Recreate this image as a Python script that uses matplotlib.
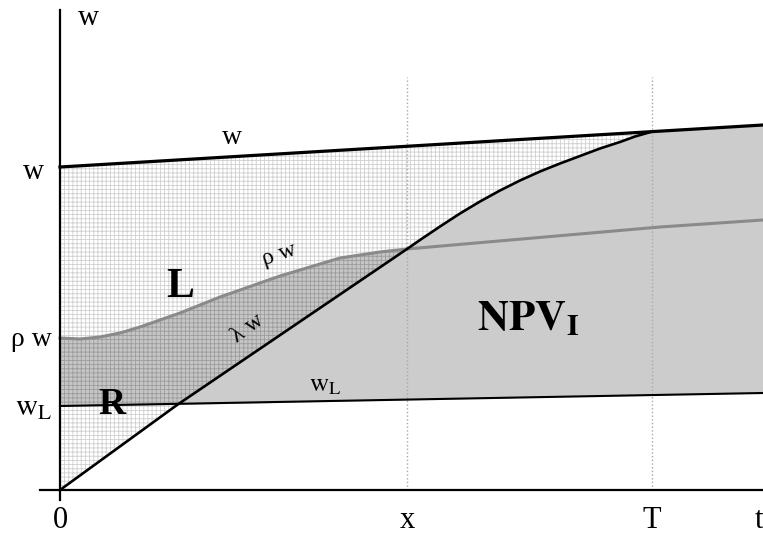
import numpy as np
import matplotlib
matplotlib.use("Agg")
import matplotlib.pyplot as plt

plt.rcParams['font.family'] = ['Liberation Serif', 'DejaVu Serif']
plt.rcParams['mathtext.fontset'] = 'stix'
plt.rcParams['hatch.linewidth'] = 0.6

# curves (t along the axis, value upward)
w_t = [0, 703]
w_v = [323, 365]

wL_t = [0, 703]
wL_v = [84, 97]

rho_t = [0, 20, 40, 60, 80, 100, 120, 140, 160, 180, 200, 220, 240, 260, 280, 300, 320, 347, 600, 703]
rho_v = [152, 151, 153, 157, 163, 170, 177, 185, 193, 200, 207, 214, 220, 226, 232, 235, 238, 241, 263, 270]

lam_t = [0, 117, 347, 360, 380, 400, 420, 440, 460, 480, 500, 520, 540, 560, 575, 592]
lam_v = [0, 85, 241, 250, 263.5, 276.5, 288.5, 299.5, 309.5, 318.5, 326.5, 334, 341.5, 348, 353.5, 358.4]

x_mark = 347
T_mark = 592

fig = plt.figure(figsize=(7.63, 5.36), dpi=100)
ax = fig.add_axes([0, 0, 1, 1])
ax.set_xlim(-60, 703)
ax.set_ylim(-46, 490)
ax.axis('off')

# light grid: between w and lambda w
gx = [w_t[0]] + lam_t[::-1]
gy = [w_v[0]] + lam_v[::-1]
ax.fill(gx, gy, facecolor='white', edgecolor='#cfcfcf', hatch='++++', lw=0, zorder=1)

# dark grid R: between rho w and max(lambda w, wL), up to x
n = rho_t.index(x_mark)
rx = rho_t[:n + 1] + lam_t[1:3][::-1] + [wL_t[0]]
ry = rho_v[:n + 1] + lam_v[1:3][::-1] + [wL_v[0]]
ax.fill(rx, ry, facecolor='#c6c6c6', edgecolor='#9c9c9c', hatch='++++', lw=0, zorder=2)

# solid grey NPV_I
sx = lam_t[1:] + [w_t[1], wL_t[1]]
sy = lam_v[1:] + [w_v[1], wL_v[1]]
ax.fill(sx, sy, facecolor='#cccccc', lw=0, zorder=3)

# vertical dotted guides
for m in (x_mark, T_mark):
    ax.plot([m, m], [0, 413], color='#a8a8a8', lw=1, ls=':', zorder=4)

# curves
ax.plot(rho_t, rho_v, color='#8a8a8a', lw=2.2, zorder=5)
ax.plot(wL_t, wL_v, color='black', lw=1.5, zorder=6)
ax.plot(lam_t, lam_v, color='black', lw=1.9, zorder=6)
ax.plot(w_t, w_v, color='black', lw=2.3, zorder=7)

# axes
ax.plot([0, 0], [-10, 480], color='black', lw=1.6, zorder=8)
ax.plot([-20, 703], [0, 0], color='black', lw=1.6, zorder=8)

# labels
ax.text(28, 472, 'w', fontsize=21, ha='center', va='center')
ax.text(172, 352, 'w', fontsize=20, ha='center', va='center')
ax.text(-27, 318, 'w', fontsize=21, ha='center', va='center')
ax.text(-29, 150, 'ρ w', fontsize=20, ha='center', va='center')
ax.text(-26, 82, r'$\mathrm{w}_\mathrm{L}$', fontsize=22, ha='center', va='center')
ax.text(0, -30, '0', fontsize=22, ha='center', va='center')
ax.text(x_mark, -31, 'x', fontsize=22, ha='center', va='center')
ax.text(T_mark, -30, 'T', fontsize=22, ha='center', va='center')
ax.text(703, -30, 't', fontsize=22, ha='right', va='center')

ax.text(120, 203, 'L', fontsize=30, fontweight='bold', ha='center', va='center', zorder=9)
ax.text(52, 86, 'R', fontsize=27, fontweight='bold', ha='center', va='center', zorder=9)
ax.text(219, 235, 'ρ w', fontsize=17, rotation=18, ha='center', va='center', zorder=9)
ax.text(188, 162, 'λ w', fontsize=17, rotation=36, ha='center', va='center', zorder=9)
ax.text(265, 104, r'$\mathrm{w}_\mathrm{L}$', fontsize=19, ha='center', va='center', zorder=9)
ax.text(468, 170, r'$\mathbf{NPV}_\mathbf{I}$', fontsize=31, ha='center', va='center', zorder=9)

fig.savefig('out.png', dpi=100)
